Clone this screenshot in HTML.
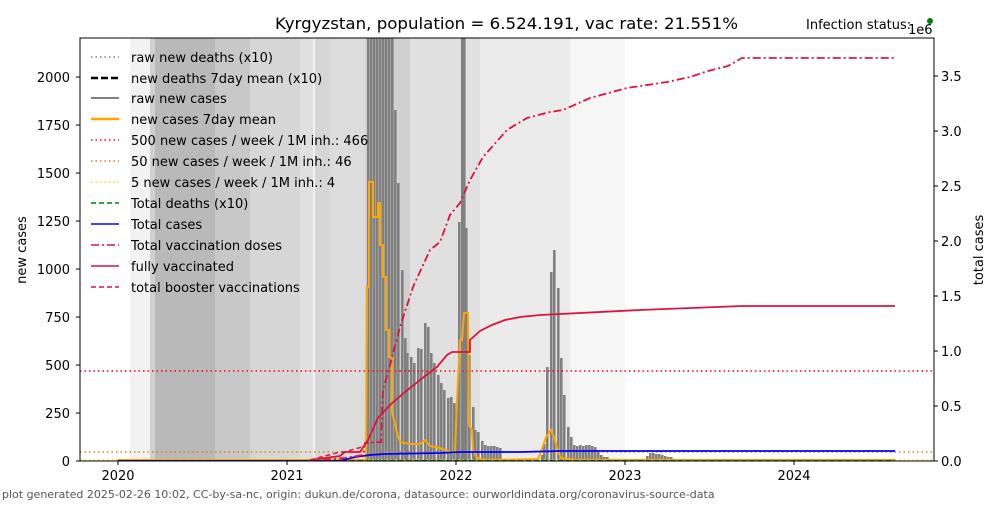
<!DOCTYPE html>
<html><head><meta charset="utf-8"><style>
body{margin:0;background:#fff;}
svg text{font-family:"DejaVu Sans","Liberation Sans",sans-serif;}
</style></head><body>
<svg width="1000" height="500" viewBox="0 0 1000 500" xmlns="http://www.w3.org/2000/svg">
<defs><clipPath id="c"><rect x="80" y="38" width="854" height="423"/></clipPath></defs>
<g clip-path="url(#c)">
<rect x="130" y="38" width="20" height="423" fill="#f2f2f2"/>
<rect x="150" y="38" width="5" height="423" fill="#d0d0d0"/>
<rect x="155" y="38" width="60" height="423" fill="#b9b9b9"/>
<rect x="215" y="38" width="35" height="423" fill="#c8c8c8"/>
<rect x="250" y="38" width="50" height="423" fill="#d6d6d6"/>
<rect x="300" y="38" width="13" height="423" fill="#e0e0e0"/>
<rect x="313" y="38" width="2" height="423" fill="#f0f0f0"/>
<rect x="315" y="38" width="15" height="423" fill="#d6d6d6"/>
<rect x="330" y="38" width="35" height="423" fill="#dcdcdc"/>
<rect x="365" y="38" width="45" height="423" fill="#d0d0d0"/>
<rect x="410" y="38" width="70" height="423" fill="#e0e0e0"/>
<rect x="480" y="38" width="90" height="423" fill="#ebebeb"/>
<rect x="570" y="38" width="55" height="423" fill="#f6f6f6"/>
<g fill="#808080" id="bars"></g>
<line x1="80" y1="371" x2="934" y2="371" stroke="#ff0000" stroke-width="1.5" stroke-dasharray="1.5,3"/>
<line x1="80" y1="452" x2="934" y2="452" stroke="#d2822a" stroke-width="1.5" stroke-dasharray="1.5,3"/>
<line x1="80" y1="460" x2="934" y2="460" stroke="#ffd700" stroke-width="1.5" stroke-dasharray="1.5,3"/>
<polyline fill="none" stroke="#ffa500" stroke-width="2" points="118,460 366,460 367,287 369,287 369,182 373,182 373,217 378,217 378,203 380,203 380,245 383,245 383,277 386,277 386,330 389,330 389,357 392,357 392,412 394,420 397,433 400,442 410,444 420,444 425,440 430,446 440,448 450,452 455,453 457,400 460,340 462,340 464,313 468,313 469,425 472,430 473,450 477,458 485,460 538,459 541,452 546,437 551,430 555,440 558,452 561,458 575,460 895,460"/>
<line x1="118" y1="461" x2="895" y2="461" stroke="#008000" stroke-width="2" stroke-dasharray="5,3"/>
<polyline fill="none" stroke="#0000ff" stroke-width="1.8" points="118,461 340,461 355,457 370,455 385,454 440,453 460,452 520,452 560,451 895,451"/>
<polyline fill="none" stroke="#dc143c" stroke-width="1.5" stroke-dasharray="5,3" points="310,460 340,452 344,452 362,447"/>
<polyline fill="none" stroke="#dc143c" stroke-width="1.8" points="310,460 340,456 345,452 360,452 368,440 378,418 390,405 405,392 420,380 437,367 447,355 452,352 470,352 470,340 480,331 492,325 505,320 520,317 540,315 640,310 742,306 895,306"/>
<polyline fill="none" stroke="#dc143c" stroke-width="1.8" stroke-dasharray="8,3,2,3" points="323,460 345,458 363,455 365,443 381,442 383,390 388,373 400,327 413,287 430,250 440,242 450,215 460,203 470,180 483,157 507,130 527,118 550,112 563,110 590,98 627,88 667,82 690,77 708,71 728,66 742,58 895,58"/>
</g>
<rect x="80" y="38" width="854" height="423" fill="none" stroke="#000" stroke-width="1"/>
<g font-size="13" fill="#000">
<g text-anchor="end">
<text x="70" y="466">0</text><text x="70" y="418">250</text><text x="70" y="370">500</text><text x="70" y="322">750</text><text x="70" y="274">1000</text><text x="70" y="226">1250</text><text x="70" y="178">1500</text><text x="70" y="130">1750</text><text x="70" y="82">2000</text>
</g>
<g stroke="#000"><line x1="76" y1="461" x2="80" y2="461"/><line x1="76" y1="413" x2="80" y2="413"/><line x1="76" y1="365" x2="80" y2="365"/><line x1="76" y1="317" x2="80" y2="317"/><line x1="76" y1="269" x2="80" y2="269"/><line x1="76" y1="221" x2="80" y2="221"/><line x1="76" y1="173" x2="80" y2="173"/><line x1="76" y1="125" x2="80" y2="125"/><line x1="76" y1="77" x2="80" y2="77"/>
<line x1="934" y1="461" x2="938" y2="461"/><line x1="934" y1="406" x2="938" y2="406"/><line x1="934" y1="351" x2="938" y2="351"/><line x1="934" y1="296" x2="938" y2="296"/><line x1="934" y1="241" x2="938" y2="241"/><line x1="934" y1="186" x2="938" y2="186"/><line x1="934" y1="131" x2="938" y2="131"/><line x1="934" y1="76" x2="938" y2="76"/>
<line x1="118" y1="461" x2="118" y2="465"/><line x1="287" y1="461" x2="287" y2="465"/><line x1="456" y1="461" x2="456" y2="465"/><line x1="625" y1="461" x2="625" y2="465"/><line x1="794" y1="461" x2="794" y2="465"/></g>
<text x="941" y="466">0.0</text><text x="941" y="411">0.5</text><text x="941" y="356">1.0</text><text x="941" y="301">1.5</text><text x="941" y="246">2.0</text><text x="941" y="191">2.5</text><text x="941" y="136">3.0</text><text x="941" y="81">3.5</text>
<g text-anchor="middle"><text x="118" y="480">2020</text><text x="287" y="480">2021</text><text x="456" y="480">2022</text><text x="625" y="480">2023</text><text x="794" y="480">2024</text></g>
<text x="908" y="34">1e6</text>
<text x="806" y="29">Infection status:</text>
<text transform="translate(26,250) rotate(-90)" text-anchor="middle">new cases</text>
<text transform="translate(983,250) rotate(-90)" text-anchor="middle">total cases</text>
</g>
<circle cx="930" cy="21" r="3" fill="#008000"/>
<text x="275" y="29" font-size="16" textLength="463" lengthAdjust="spacingAndGlyphs">Kyrgyzstan, population = 6.524.191, vac rate: 21.551%</text>
<text x="2" y="498" font-size="11" fill="#555">plot generated 2025-02-26 10:02, CC-by-sa-nc, origin: dukun.de/corona, datasource: ourworldindata.org/coronavirus-source-data</text>
<g font-size="13">
<line x1="91" y1="57" x2="119" y2="57" stroke="#808080" stroke-width="1.5" stroke-dasharray="1.5,3"/>
<line x1="91" y1="78" x2="119" y2="78" stroke="#000" stroke-width="2.5" stroke-dasharray="7,3"/>
<line x1="91" y1="98" x2="119" y2="98" stroke="#808080" stroke-width="2"/>
<line x1="91" y1="119" x2="119" y2="119" stroke="#ffa500" stroke-width="2.5"/>
<line x1="91" y1="140" x2="119" y2="140" stroke="#ff0000" stroke-width="1.5" stroke-dasharray="1.5,3"/>
<line x1="91" y1="161" x2="119" y2="161" stroke="#d2822a" stroke-width="1.5" stroke-dasharray="1.5,3"/>
<line x1="91" y1="182" x2="119" y2="182" stroke="#ffd700" stroke-width="1.5" stroke-dasharray="1.5,3"/>
<line x1="91" y1="203" x2="119" y2="203" stroke="#008000" stroke-width="1.5" stroke-dasharray="5,3"/>
<line x1="91" y1="224" x2="119" y2="224" stroke="#0000ff" stroke-width="1.5"/>
<line x1="91" y1="245" x2="119" y2="245" stroke="#dc143c" stroke-width="1.5" stroke-dasharray="8,3,2,3"/>
<line x1="91" y1="266" x2="119" y2="266" stroke="#dc143c" stroke-width="1.5"/>
<line x1="91" y1="287" x2="119" y2="287" stroke="#dc143c" stroke-width="1.5" stroke-dasharray="5,3"/>
<text x="131" y="62">raw new deaths (x10)</text>
<text x="131" y="83">new deaths 7day mean (x10)</text>
<text x="131" y="103">raw new cases</text>
<text x="131" y="124">new cases 7day mean</text>
<text x="131" y="145">500 new cases / week / 1M inh.: 466</text>
<text x="131" y="166">50 new cases / week / 1M inh.: 46</text>
<text x="131" y="187">5 new cases / week / 1M inh.: 4</text>
<text x="131" y="208">Total deaths (x10)</text>
<text x="131" y="229">Total cases</text>
<text x="131" y="250">Total vaccination doses</text>
<text x="131" y="271">fully vaccinated</text>
<text x="131" y="292">total booster vaccinations</text>
</g>
</svg>
<script>
var b=[[367,38],[370,38],[373,38],[376,38],[379,38],[382,38],[385,38],[388,38],[391,38],[394,110],[397,183],[401,270],[404,338],[406,353],[410,357],[413,363],[417,348],[420,349],[424,323],[427,327],[430,353],[433,363],[437,375],[440,383],[443,390],[447,398],[450,397],[453,403],[456,398],[458,222],[461,38],[463,38],[465,228],[468,355],[472,407],[474,430],[477,432],[481,441],[484,445],[487,446],[490,446],[493,446],[496,447],[499,448],[541,455],[543,444],[546,367],[550,272],[553,250],[557,288],[560,358],[563,395],[567,427],[570,437],[573,445],[576,446],[579,445],[582,446],[585,445],[588,445],[591,446],[594,447],[597,450],[600,455],[603,457],[606,457],[646,456],[649,453],[652,453],[655,454],[658,454],[661,455],[664,456],[667,457],[670,457]];
var g=document.getElementById('bars'),s='';
b.forEach(function(p){s+='<rect x="'+p[0]+'" y="'+p[1]+'" width="2.6" height="'+(461-p[1])+'"/>';});
g.innerHTML=s;
</script>
</body></html>
